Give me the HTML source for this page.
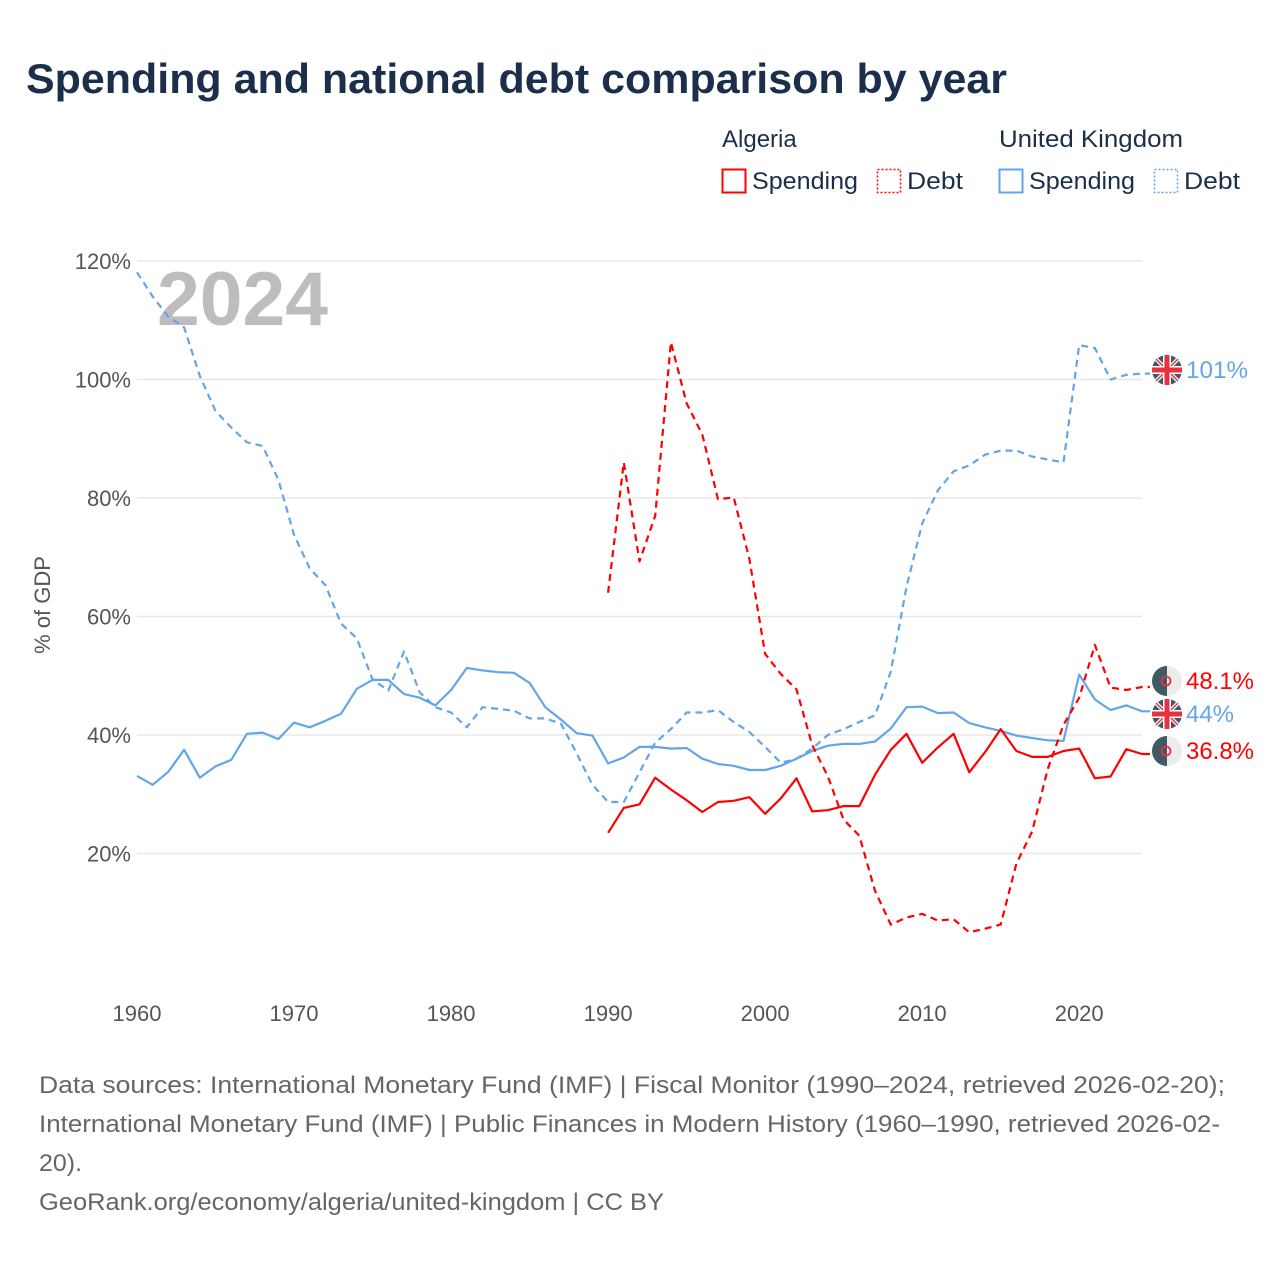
<!DOCTYPE html>
<html><head><meta charset="utf-8"><style>
body{margin:0;background:#fff;width:1280px;height:1280px;overflow:hidden;font-family:"Liberation Sans",sans-serif}
</style></head><body>
<svg id="chart" width="1280" height="1280" xmlns="http://www.w3.org/2000/svg" font-family="Liberation Sans, sans-serif">
<text x="26" y="93" font-size="42" font-weight="bold" fill="#1b2f4b" textLength="981" lengthAdjust="spacingAndGlyphs">Spending and national debt comparison by year</text>
<g font-size="24" fill="#1b2f4b">
<text x="722" y="147">Algeria</text>
<text x="999" y="147" textLength="184" lengthAdjust="spacingAndGlyphs">United Kingdom</text>
<g><rect x="722.5" y="169.5" width="23" height="23" fill="none" stroke="#f00" stroke-width="2"/><text x="752" y="189" textLength="106" lengthAdjust="spacingAndGlyphs">Spending</text></g>
<g><rect x="877.5" y="169.5" width="23" height="23" fill="none" stroke="#f00" stroke-width="1.5" stroke-dasharray="2,2"/><text x="907" y="189" textLength="56" lengthAdjust="spacingAndGlyphs">Debt</text></g>
<g><rect x="999.5" y="169.5" width="23" height="23" fill="none" stroke="#62a6e8" stroke-width="2"/><text x="1029" y="189" textLength="106" lengthAdjust="spacingAndGlyphs">Spending</text></g>
<g><rect x="1154.5" y="169.5" width="23" height="23" fill="none" stroke="#62a6e8" stroke-width="1.5" stroke-dasharray="2,2"/><text x="1184" y="189" textLength="56" lengthAdjust="spacingAndGlyphs">Debt</text></g>
</g>
<g id="grid"></g>
<g id="yticks" font-size="22" fill="#555" text-anchor="end"></g>
<g id="xticks" font-size="22" fill="#555" text-anchor="middle"></g>
<text transform="translate(50,605) rotate(-90)" font-size="22" fill="#555" text-anchor="middle">% of GDP</text>
<text x="157" y="325" font-size="76" font-weight="bold" fill="#bdbdbd" textLength="171" lengthAdjust="spacingAndGlyphs">2024</text>
<g id="series"></g>
<g id="labels" font-size="24"></g>
<g font-size="24" fill="#666">
<text x="39" y="1093" textLength="1186" lengthAdjust="spacingAndGlyphs">Data sources: International Monetary Fund (IMF) | Fiscal Monitor (1990–2024, retrieved 2026-02-20);</text>
<text x="39" y="1132" textLength="1181" lengthAdjust="spacingAndGlyphs">International Monetary Fund (IMF) | Public Finances in Modern History (1960–1990, retrieved 2026-02-</text>
<text x="39" y="1171" textLength="43" lengthAdjust="spacingAndGlyphs">20).</text>
<text x="39" y="1210" textLength="625" lengthAdjust="spacingAndGlyphs">GeoRank.org/economy/algeria/united-kingdom | CC BY</text>
</g>
</svg>
<script>
const yTicks=[20,40,60,80,100,120];
const yTickLabels=["20%","40%","60%","80%","100%","120%"];
const xTicks=[1960,1970,1980,1990,2000,2010,2020];
const ukYears0=1960;
const ukDebt=[118.1,114,110.6,108.8,100.6,94.7,91.9,89.4,88.8,83.1,73.8,68.1,65.3,58.8,56.3,49.4,47.5,54.1,47.2,44.7,43.8,41.3,44.7,44.4,44.1,42.8,42.8,41.9,36.9,31.6,28.7,28.7,33.7,38.7,41,43.8,43.8,44.2,42.2,40.5,38,35.3,36,37.7,40,41,42.2,43.3,50.7,65,75.7,81.3,84.5,85.5,87.3,88,88,87,86.5,86,105.8,105.3,100,100.8,101];
const ukSpending=[33.1,31.6,33.8,37.5,32.8,34.7,35.8,40.2,40.4,39.3,42.1,41.3,42.4,43.6,47.8,49.3,49.3,46.9,46.3,45,47.6,51.3,50.9,50.6,50.5,48.8,44.7,42.6,40.3,39.9,35.2,36.2,38,38,37.7,37.8,36,35.1,34.8,34.1,34.1,34.8,36,37.3,38.2,38.5,38.5,38.9,41.1,44.7,44.8,43.7,43.8,42,41.3,40.7,39.9,39.5,39.1,39,50.2,46,44.2,45,44];
const dzYears0=1990;
const dzDebt=[64,86,69.3,77,106.3,96,90.7,79.8,80.1,69.7,53.7,50.3,47.7,38.3,33,25.7,23,13.7,8,9.2,9.8,8.7,8.9,6.7,7.3,8,18.3,23.7,34.3,41.7,46.3,55.2,48,47.6,48.1];
const dzSpending=[23.5,27.7,28.3,32.8,30.8,29,27,28.7,28.9,29.5,26.7,29.3,32.7,27.1,27.3,28,28,33.3,37.5,40.2,35.3,37.9,40.2,33.7,37.1,41,37.3,36.3,36.3,37.3,37.7,32.7,33,37.6,36.8];
const NS="http://www.w3.org/2000/svg";
const X=y=>137+(y-1960)*(1142-137)/64;
const Y=v=>972-v*5.925;
function mk(t,a,p){const e=document.createElementNS(NS,t);for(const k in a)e.setAttribute(k,a[k]);p.appendChild(e);return e;}
const grid=document.getElementById('grid'),yt=document.getElementById('yticks'),xt=document.getElementById('xticks');
yTicks.forEach((v,i)=>{
 const l=mk('line',{x1:137,x2:1142,y1:Y(v),y2:Y(v),stroke:'#e8e8e8','stroke-width':1.5},grid);
 
 
 const t=mk('text',{x:131,y:Y(v)+8},yt);t.textContent=yTickLabels[i];
 
 
});
xTicks.forEach(y=>{const t=mk('text',{x:X(y),y:1021},xt);t.textContent=y;
 
 });
const ser=document.getElementById('series');
function line(arr,y0,color,dash,name){
 const pts=arr.map((v,i)=>X(y0+i).toFixed(1)+','+Y(v).toFixed(1));
 const last=arr[arr.length-1];
 pts.push('1150,'+Y(last).toFixed(1));
 const p=mk('polyline',{points:pts.join(' '),fill:'none',stroke:color,'stroke-width':2.2,'stroke-linejoin':'round'},ser);
 if(dash)p.setAttribute('stroke-dasharray','7,5');
 
 
}
line(ukDebt,ukYears0,'#62a6e8',true,'uk-debt-line');
line(ukSpending,ukYears0,'#62a6e8',false,'uk-spending-line');
line(dzDebt,dzYears0,'#f00',true,'algeria-debt-line');
line(dzSpending,dzYears0,'#f00',false,'algeria-spending-line');
const lab=document.getElementById('labels');
function ukFlag(cy,g){
 mk('circle',{cx:1167,cy:cy,r:15,fill:'#3f5a63'},g);
 mk('path',{d:`M1156 ${cy-11}L1178 ${cy+11}M1178 ${cy-11}L1156 ${cy+11}`,stroke:'#fff',"stroke-width":4},g);
 mk('path',{d:`M1156 ${cy-11}L1178 ${cy+11}M1178 ${cy-11}L1156 ${cy+11}`,stroke:'#e8303f',"stroke-width":1.5},g);
 mk('rect',{x:1152,y:cy-4,width:30,height:8,fill:'#fff'},g);
 mk('rect',{x:1163,y:cy-15,width:8,height:30,fill:'#fff'},g);
 mk('rect',{x:1152,y:cy-2.5,width:30,height:5,fill:'#e8303f'},g);
 mk('rect',{x:1164.5,y:cy-15,width:5,height:30,fill:'#e8303f'},g);
}
function dzFlag(cy,g){
 mk('path',{d:`M1167 ${cy-15}A15 15 0 0 0 1167 ${cy+15}Z`,fill:'#3f5a63'},g);
 mk('path',{d:`M1167 ${cy-15}A15 15 0 0 1 1167 ${cy+15}Z`,fill:'#ececec'},g);
 mk('circle',{cx:1166,cy:cy,r:4.5,fill:'none',stroke:'#e8303f','stroke-width':1.8},g);
}
const ends=[
 {n:'uk-debt-label',cy:370,txt:'101%',c:'#62a6e8',uk:true,w:62},
 {n:'algeria-debt-label',cy:681,txt:'48.1%',c:'#f00',uk:false,w:68},
 {n:'uk-spending-label',cy:714,txt:'44%',c:'#62a6e8',uk:true,w:48},
 {n:'algeria-spending-label',cy:751,txt:'36.8%',c:'#f00',uk:false,w:68}];
ends.forEach(e=>{
 const g=mk('g',{},lab);
 
 
 e.uk?ukFlag(e.cy,g):dzFlag(e.cy,g);
 const t=mk('text',{x:1186,y:e.cy+8,fill:e.c,textLength:e.w,lengthAdjust:'spacingAndGlyphs'},g);t.textContent=e.txt;
});
</script>
</body></html>
